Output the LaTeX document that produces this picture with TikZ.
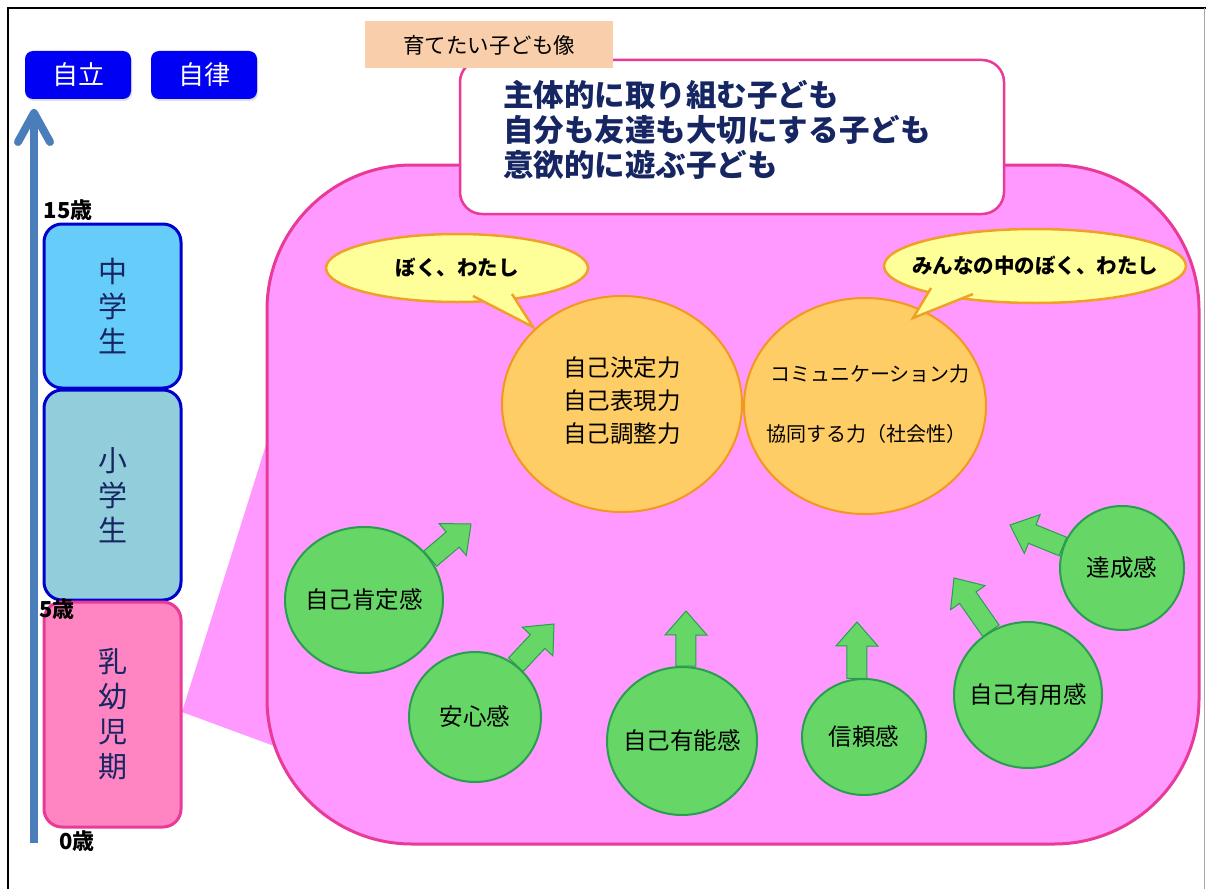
\documentclass[tikz,border=0pt]{standalone}
\usepackage{fontspec}
\setmainfont{Noto Sans CJK JP}
\usetikzlibrary{shapes.geometric,calc,shadows}
\definecolor{pinkfill}{RGB}{255,153,255}
\definecolor{pinkline}{RGB}{232,58,150}
\definecolor{greenfill}{RGB}{102,215,102}
\definecolor{greenline}{RGB}{40,158,78}
\definecolor{orangefill}{RGB}{255,205,102}
\definecolor{orangeline}{RGB}{242,152,30}
\definecolor{yellowfill}{RGB}{255,255,153}
\definecolor{yellowline}{RGB}{240,160,40}
\definecolor{navy}{RGB}{22,38,98}
\definecolor{steel}{RGB}{74,126,187}
\definecolor{tan}{RGB}{249,206,170}
\definecolor{jhfill}{RGB}{102,204,250}
\definecolor{esfill}{RGB}{146,205,220}
\definecolor{kfill}{RGB}{255,133,194}
\definecolor{boxblue}{RGB}{0,0,205}
\definecolor{hdrblue}{RGB}{0,0,245}
\newcommand\zw[1]{\makebox[0pt][c]{#1}}
\newcommand\blockarr[2]{%
  \coordinate (hb) at ($(#2)!24pt!(#1)$);
  \filldraw[barrow] ($(#1)!10pt!90:(#2)$) -- ($(hb)!10pt!-90:(#1)$) -- ($(hb)!21pt!-90:(#1)$) -- (#2) -- ($(hb)!21pt!90:(#1)$) -- ($(hb)!10pt!90:(#1)$) -- ($(#1)!10pt!-90:(#2)$) -- cycle;}
\begin{document}
\begin{tikzpicture}[x=1pt,y=-1pt,
  hdrbox/.style={fill=hdrblue,rounded corners=8pt,minimum width=106pt,minimum height=48pt,inner sep=0pt,text=white,font=\fontsize{26}{30}\selectfont,drop shadow={opacity=0.25,shadow xshift=1pt,shadow yshift=-2pt}},
  stagebox/.style={rounded corners=18pt,line width=3pt,minimum width=137pt,inner sep=0pt,align=center,text=navy,font=\fontsize{29}{35}\selectfont},
  agelbl/.style={font=\bfseries\fontsize{22}{24}\selectfont,inner sep=0pt},
  tline/.style={steel,line width=8pt,line cap=round,line join=round},
  gcircle/.style={ellipse,fill=greenfill,draw=greenline,line width=2pt,inner sep=0pt,font=\fontsize{23.5}{26}\selectfont},
  ocircle/.style={ellipse,fill=orangefill,draw=orangeline,line width=2pt,inner sep=0pt},
  bubble/.style={ellipse,fill=yellowfill,draw=yellowline,line width=2.5pt,inner sep=0pt,font=\bfseries\fontsize{20.5}{24}\selectfont},
  tail/.style={fill=yellowfill,draw=yellowline,line width=2.5pt,line join=miter},
  barrow/.style={fill=greenfill,draw=greenline,line width=1pt,line join=miter}]
\useasboundingbox (0,0) rectangle (1206,888);
\fill[white] (0,0) rectangle (1206,888);
% frame
\draw[black,line width=2pt] (8,890) -- (8,8) -- (1208,8);
\draw[black!35,line width=1pt] (1204,8) -- (1204,890);
% header boxes
\node[hdrbox] (jiritsu) at (78,75) {自立};
\node[hdrbox] (jiritsu2) at (204,75) {自律};
% time arrow
\coordinate (abot) at (34,843);
\coordinate (atop) at (34,113);
\coordinate (wl) at (18,142);
\coordinate (wr) at (50,142);
\draw[tline,line cap=butt] (abot) -- ($(atop)+(0,4)$);
\draw[tline] (wl) -- (atop) -- (wr);
% connecting wedge
\fill[pinkfill] (182,712) -- (266,445) -- (300,445) -- (300,755.5) -- cycle;
% stage boxes
\node[stagebox,fill=jhfill,draw=boxblue,minimum height=164pt] (jh) at (112.5,306) {中\\学\\生};
\node[stagebox,fill=esfill,draw=boxblue,minimum height=210pt] (es) at (112.5,495) {小\\学\\生};
\node[stagebox,fill=kfill,draw=pinkline,minimum height=225pt] (kd) at (112.5,714.5) {乳\\幼\\児\\期};
% age labels
\node[agelbl] (a15) at (68,210) {15歳};
\node[agelbl] (a5) at (57,609) {5歳};
\node[agelbl] (a0) at (77,841) {0歳};
% big pink region
\draw[fill=pinkfill,draw=pinkline,line width=3pt,rounded corners=145pt] (267,165) rectangle (1199,844);
% white goal box
\node[fill=white,draw=pinkline,line width=2.5pt,rounded corners=22pt,minimum width=544pt,minimum height=154pt,inner sep=0pt] (wbox) at (732,137) {};
\node[anchor=west,align=left,text=navy,font=\bfseries\fontsize{30.5}{35}\selectfont,inner sep=0pt] (goals) at (503,130) {主体的に取り組む子ども\\自分も友達も大切にする子ども\\意欲的に遊ぶ子ども};
% tan title
\node[fill=tan,minimum width=248pt,minimum height=47pt,inner sep=0pt,font=\fontsize{21.5}{24}\selectfont] (title) at (489,45) {育てたい子ども像};
% orange ellipses
\node[ocircle,minimum width=240pt,minimum height=216pt] (o1) at (622,404) {};
\node[ocircle,minimum width=242pt,minimum height=216pt] (o2) at (865,406) {};
\node[align=center,font=\fontsize{23.5}{33}\selectfont,inner sep=0pt] (o1t) at (622,401) {自己決定力\\自己表現力\\自己調整力};
\node[align=center,font=\fontsize{20}{60}\selectfont,inner sep=0pt] (o2t) at (866,404) {\zw{\hspace{8pt}コミュニケーション力}\\\zw{協同する力（社会性）}};
% speech bubbles
\node[bubble,minimum width=262pt,minimum height=68pt] (b1) at (457,268) {ぼく、わたし};
\coordinate (t1a) at (473,296);
\coordinate (t1tip) at (533,327);
\coordinate (t1b) at (512,294);
\filldraw[tail] (t1a) -- (t1tip) -- (t1b);
\node[bubble,minimum width=302pt,minimum height=74pt] (b2) at (1035,266) {\zw{みんなの中のぼく、わたし}};
\coordinate (t2a) at (931,288);
\coordinate (t2tip) at (913,318);
\coordinate (t2b) at (973,294);
\filldraw[tail] (t2a) -- (t2tip) -- (t2b);
% green circles
\node[gcircle,minimum width=158pt,minimum height=146pt] (c1) at (364,600) {\zw{自己肯定感}};
\node[gcircle,minimum width=132pt,minimum height=130pt] (c2) at (475,717) {\zw{安心感}};
\node[gcircle,minimum width=150pt,minimum height=148pt] (c3) at (682,741) {\zw{自己有能感}};
\node[gcircle,minimum width=124pt,minimum height=116pt] (c4) at (864,737) {\zw{信頼感}};
\node[gcircle,minimum width=148pt,minimum height=146pt] (c5) at (1028,695) {\zw{自己有用感}};
\node[gcircle,minimum width=124pt,minimum height=124pt] (c6) at (1122,568) {\zw{達成感}};
% arrows
\coordinate (p1) at (471,524);
\coordinate (p2) at (554,624);
\coordinate (p3) at (686,611);
\coordinate (p4) at (857,622);
\coordinate (p5) at (954,578);
\coordinate (p6) at (1010,525);
\blockarr{c1.32}{p1}
\blockarr{c2.52}{p2}
\blockarr{c3.87}{p3}
\blockarr{c4.97}{p4}
\blockarr{c5.120}{p5}
\blockarr{c6.160}{p6}
\end{tikzpicture}
\end{document}
